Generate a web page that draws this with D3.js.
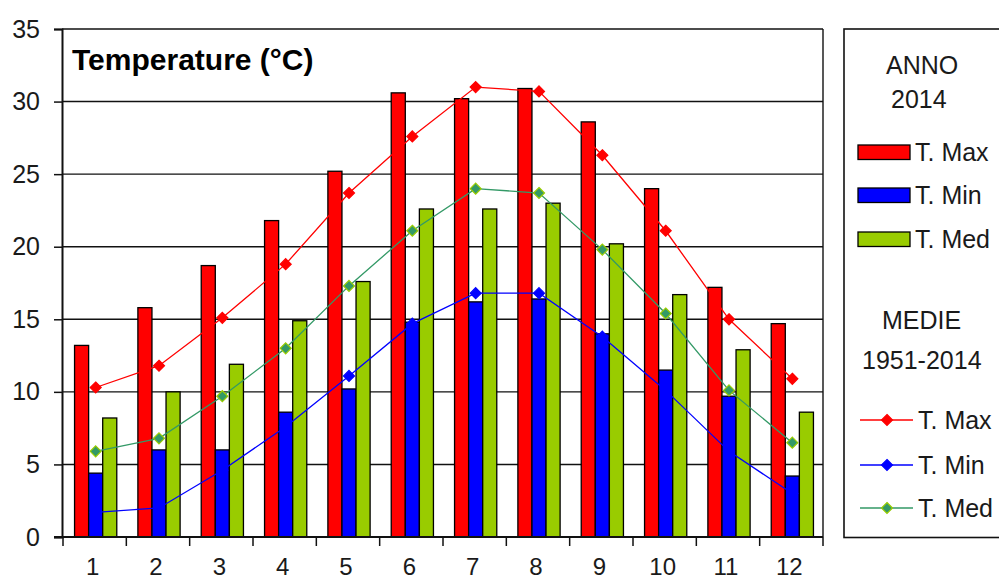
<!DOCTYPE html>
<html><head><meta charset="utf-8">
<script src="https://cdn.jsdelivr.net/npm/d3@7"></script>
<style>
html,body{margin:0;padding:0;background:#fff;}
svg{display:block;font-family:"Liberation Sans",Arial,sans-serif;}
</style></head>
<body>
<svg id="chart" width="999" height="581"></svg>
<script>
// ---- data ----
const months = ["1","2","3","4","5","6","7","8","9","10","11","12"];
const barSeries = ["T. Max","T. Min","T. Med"];
const tMax2014 = [13.2,15.8,18.7,21.8,25.2,30.6,30.2,30.9,28.6,24.0,17.2,14.7];
const tMin2014 = [4.4,6.0,6.0,8.6,10.2,14.8,16.2,16.4,14.0,11.5,9.7,4.2];
const tMed2014 = [8.2,10.0,11.9,14.9,17.6,22.6,22.6,23.0,20.2,16.7,12.9,8.6];
const tMaxAvg = [10.3,11.8,15.1,18.8,23.7,27.6,31.0,30.7,26.3,21.1,15.0,10.9];
const tMinAvg = [1.7,2.0,4.6,7.6,11.1,14.7,16.8,16.8,13.8,10.1,5.9,3.0];
const tMedAvg = [5.9,6.8,9.7,13.0,17.3,21.1,24.0,23.7,19.8,15.4,10.1,6.5];
const yTicks = [0,5,10,15,20,25,30,35];
const title = "Temperature (°C)";
const legendTitle1 = ["ANNO","2014"];
const legendTitle2 = ["MEDIE","1951-2014"];

const barColors = ["#ff0000","#0000ff","#99cc00"];
const lineColors = ["#ff0000","#0000ff","#339966"];
const markerFill = ["#ff0000","#0000ff","#339966"];
const markerStroke = ["#ff0000","#0000ff","#99cc00"];

const svg = d3.select("#chart");
const pLeft = 63, pRight = 823, pTop = 29, pBottom = 537;

const x = d3.scaleBand().domain(months).range([pLeft, pRight]).paddingInner(0).paddingOuter(0);
const y = d3.scaleLinear().domain([0,35]).range([pBottom, pTop]);
const groupW = x.bandwidth() / 4.5 * 3;
const x1 = d3.scaleBand().domain(barSeries).range([0, groupW]);
const groupOff = (x.bandwidth() - groupW) / 2 + 1;

const textColor = "#1a1a1a";

// gridlines
svg.append("g").selectAll("line").data(yTicks.filter(d => d > 0)).join("line")
  .attr("x1", pLeft-1).attr("x2", pRight)
  .attr("y1", d => y(d)).attr("y2", d => y(d))
  .attr("stroke", "#111").attr("stroke-width", 1.4);
// right border
svg.append("line").attr("x1", pRight).attr("x2", pRight).attr("y1", pTop).attr("y2", pBottom)
  .attr("stroke", "#111").attr("stroke-width", 1.4);

// bars
const barData = [tMax2014, tMin2014, tMed2014];
barSeries.forEach((s, si) => {
  svg.append("g").selectAll("rect").data(months).join("rect")
    .attr("x", m => x(m) + groupOff + x1(s))
    .attr("y", (m, i) => y(barData[si][i]))
    .attr("width", x1.bandwidth())
    .attr("height", (m, i) => y(0) - y(barData[si][i]))
    .attr("fill", barColors[si])
    .attr("stroke", "#000").attr("stroke-width", 1.3);
});

// lines
const lineData = [tMaxAvg, tMinAvg, tMedAvg];
const cx = m => x(m) + x.bandwidth()/2 + 1;
const diamond = r => `M0,${-r}L${r},0L0,${r}L${-r},0Z`;
lineData.forEach((arr, li) => {
  const line = d3.line().x((d, i) => cx(months[i])).y(d => y(d));
  svg.append("path").datum(arr).attr("d", line)
    .attr("fill", "none").attr("stroke", lineColors[li]).attr("stroke-width", 1.3);
  svg.append("g").selectAll("path").data(arr).join("path")
    .attr("transform", (d, i) => `translate(${cx(months[i])},${y(d)})`)
    .attr("d", diamond(5.5))
    .attr("fill", markerFill[li]).attr("stroke", markerStroke[li]).attr("stroke-width", 1.2);
});

// y axis
const yAxis = svg.append("g").attr("transform", `translate(${pLeft-1},0)`)
  .call(d3.axisLeft(y).tickValues(yTicks).tickSize(8).tickPadding(14).tickFormat(d3.format("d")));
yAxis.select(".domain").attr("stroke", "#111").attr("stroke-width", 2);
yAxis.selectAll(".tick line").attr("stroke", "#111").attr("stroke-width", 1.5);
yAxis.selectAll(".tick text").attr("fill", textColor).attr("font-size", 25)
  .attr("font-family", "Liberation Sans, Arial, sans-serif");

// x axis
svg.append("line").attr("x1", pLeft-9).attr("x2", pRight).attr("y1", pBottom).attr("y2", pBottom)
  .attr("stroke", "#111").attr("stroke-width", 2);
const tickPos = months.map(m => x(m)).concat([pRight]);
svg.append("g").selectAll("line").data(tickPos).join("line")
  .attr("x1", d => d).attr("x2", d => d).attr("y1", pBottom).attr("y2", pBottom + 9)
  .attr("stroke", "#111").attr("stroke-width", 1.5);
svg.append("g").selectAll("text").data(months).join("text")
  .attr("x", m => x(m) + x.bandwidth()/2 - 2).attr("y", 575)
  .attr("text-anchor", "middle").attr("font-size", 24).attr("fill", textColor)
  .text(m => m);

// title
svg.append("text").attr("x", 72).attr("y", 70).attr("font-size", 30).attr("font-weight", "bold")
  .attr("fill", "#000").text(title);

// legend box
svg.append("rect").attr("x", 844).attr("y", 29).attr("width", 170).attr("height", 508.5)
  .attr("fill", "none").attr("stroke", "#111").attr("stroke-width", 1.6);
svg.append("text").attr("x", 886).attr("y", 74).attr("font-size", 25).attr("fill", textColor).text(legendTitle1[0]);
svg.append("text").attr("x", 891).attr("y", 108).attr("font-size", 25).attr("fill", textColor).text(legendTitle1[1]);
const swY = [145, 188, 232];
barSeries.forEach((s, i) => {
  svg.append("rect").attr("x", 858).attr("y", swY[i]).attr("width", 52).attr("height", 14.5)
    .attr("fill", barColors[i]).attr("stroke", "#000").attr("stroke-width", 1.3);
  svg.append("text").attr("x", 915).attr("y", swY[i] + 15.5).attr("font-size", 25)
    .attr("fill", textColor).text(s);
});
svg.append("text").attr("x", 882).attr("y", 329).attr("font-size", 25).attr("fill", textColor).text(legendTitle2[0]);
svg.append("text").attr("x", 862).attr("y", 369).attr("font-size", 25).attr("fill", textColor).text(legendTitle2[1]);
const lnY = [420, 465, 508];
barSeries.forEach((s, i) => {
  svg.append("line").attr("x1", 860).attr("x2", 913).attr("y1", lnY[i]).attr("y2", lnY[i])
    .attr("stroke", lineColors[i]).attr("stroke-width", 1.5);
  svg.append("path").attr("transform", `translate(887,${lnY[i]})`).attr("d", diamond(5.5))
    .attr("fill", markerFill[i]).attr("stroke", markerStroke[i]).attr("stroke-width", 1.2);
  svg.append("text").attr("x", 918).attr("y", lnY[i] + 8.5).attr("font-size", 25)
    .attr("fill", textColor).text(s);
});
</script>
</body></html>
